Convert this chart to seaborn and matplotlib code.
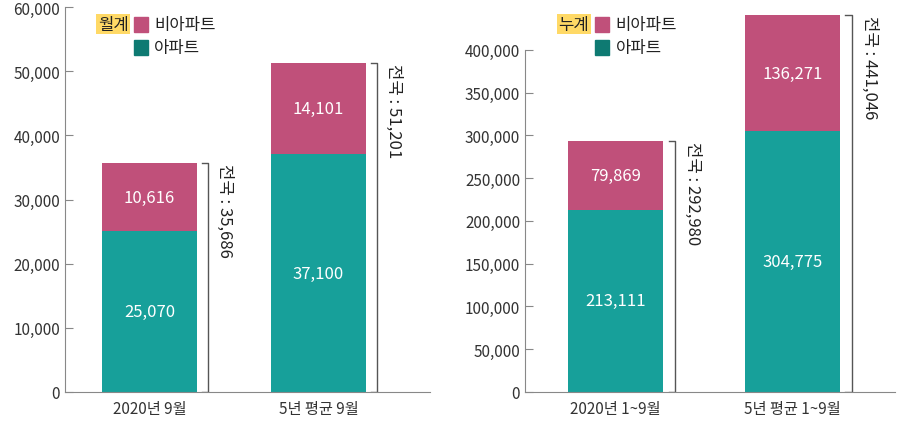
import matplotlib
matplotlib.use('Agg')
import matplotlib.pyplot as plt
import seaborn as sns
import pandas as pd

plt.rcParams['font.family'] = ['Noto Sans CJK KR', 'Noto Sans CJK JP', 'Noto Sans CJK SC', 'DejaVu Sans']

# data
monthly_cats = ['2020년 9월', '5년 평균 9월']
monthly_apt = [25070, 37100]
monthly_non = [10616, 14101]
cum_cats = ['2020년 1~9월', '5년 평균 1~9월']
cum_apt = [213111, 304775]
cum_non = [79869, 136271]

TEAL = '#17a09a'
PINK = '#c0507a'
TEAL_LEG = '#0e7a72'
TXT = '#333333'


def panel(ax, cats, apt, non, ymax, step, ylim, xlim, width, tag):
    df = pd.DataFrame({'cat': cats, 'apt': apt, 'non': non})
    sns.barplot(data=df, x='cat', y='apt', color=TEAL, width=width, ax=ax,
                saturation=1)
    sns.barplot(data=df, x='cat', y='non', bottom=df['apt'], color=PINK,
                width=width, ax=ax, saturation=1)
    ax.set_xlim(*xlim)
    ax.set_ylim(0, ylim)
    ax.spines['left'].set_bounds(0, ymax)
    ax.set_yticks(range(0, ymax + 1, step))
    ax.set_yticklabels([f'{v:,}' for v in range(0, ymax + 1, step)], fontsize=11, color=TXT)
    ax.tick_params(axis='y', direction='in', length=6, color='#888888')
    ax.tick_params(axis='x', length=0, labelsize=11, labelcolor=TXT, pad=6)
    ax.set_xlabel('')
    ax.set_ylabel('')
    for s in ['top', 'right']:
        ax.spines[s].set_visible(False)
    for s in ['left', 'bottom']:
        ax.spines[s].set_color('#888888')
    for i, (a, n) in enumerate(zip(apt, non)):
        ax.text(i, a / 2, f'{a:,}', color='white', ha='center', va='center', fontsize=12)
        ax.text(i, a + n / 2, f'{n:,}', color='white', ha='center', va='center', fontsize=12)
        tot = a + n
        bx = i + width / 2 + 0.065
        tk = 0.035
        ax.plot([bx - tk, bx, bx, bx - tk], [tot, tot, 0, 0], color='#555555', lw=1)
        ax.text(bx + 0.1, tot, f'전국 : {tot:,}', rotation=270, ha='center', va='top',
                fontsize=12, color='#222222')
    # legend
    ax.text(0.09, 0.955, tag, transform=ax.transAxes, fontsize=12, color='#222222',
            va='center', ha='left', bbox=dict(boxstyle='square,pad=0.1', fc='#ffd966', ec='none'))
    ax.add_patch(plt.Rectangle((0.19, 0.935), 0.038, 0.04, transform=ax.transAxes,
                               color=PINK, clip_on=False))
    ax.text(0.245, 0.955, '비아파트', transform=ax.transAxes, fontsize=12, va='center', color='#222222')
    ax.add_patch(plt.Rectangle((0.19, 0.875), 0.038, 0.04, transform=ax.transAxes,
                               color=TEAL_LEG, clip_on=False))
    ax.text(0.245, 0.895, '아파트', transform=ax.transAxes, fontsize=12, va='center', color='#222222')


fig = plt.figure(figsize=(9, 4.39), dpi=100)
ax1 = fig.add_axes([65 / 900, 46 / 439, 365 / 900, 385 / 439])
ax2 = fig.add_axes([525 / 900, 46 / 439, 370 / 900, 385 / 439])
panel(ax1, monthly_cats, monthly_apt, monthly_non, 60000, 10000, 60000, (-0.5, 1.66), 0.56, '월계')
panel(ax2, cum_cats, cum_apt, cum_non, 400000, 50000, 450000, (-0.511, 1.58), 0.54, '누계')
fig.savefig('out.png', dpi=100)
